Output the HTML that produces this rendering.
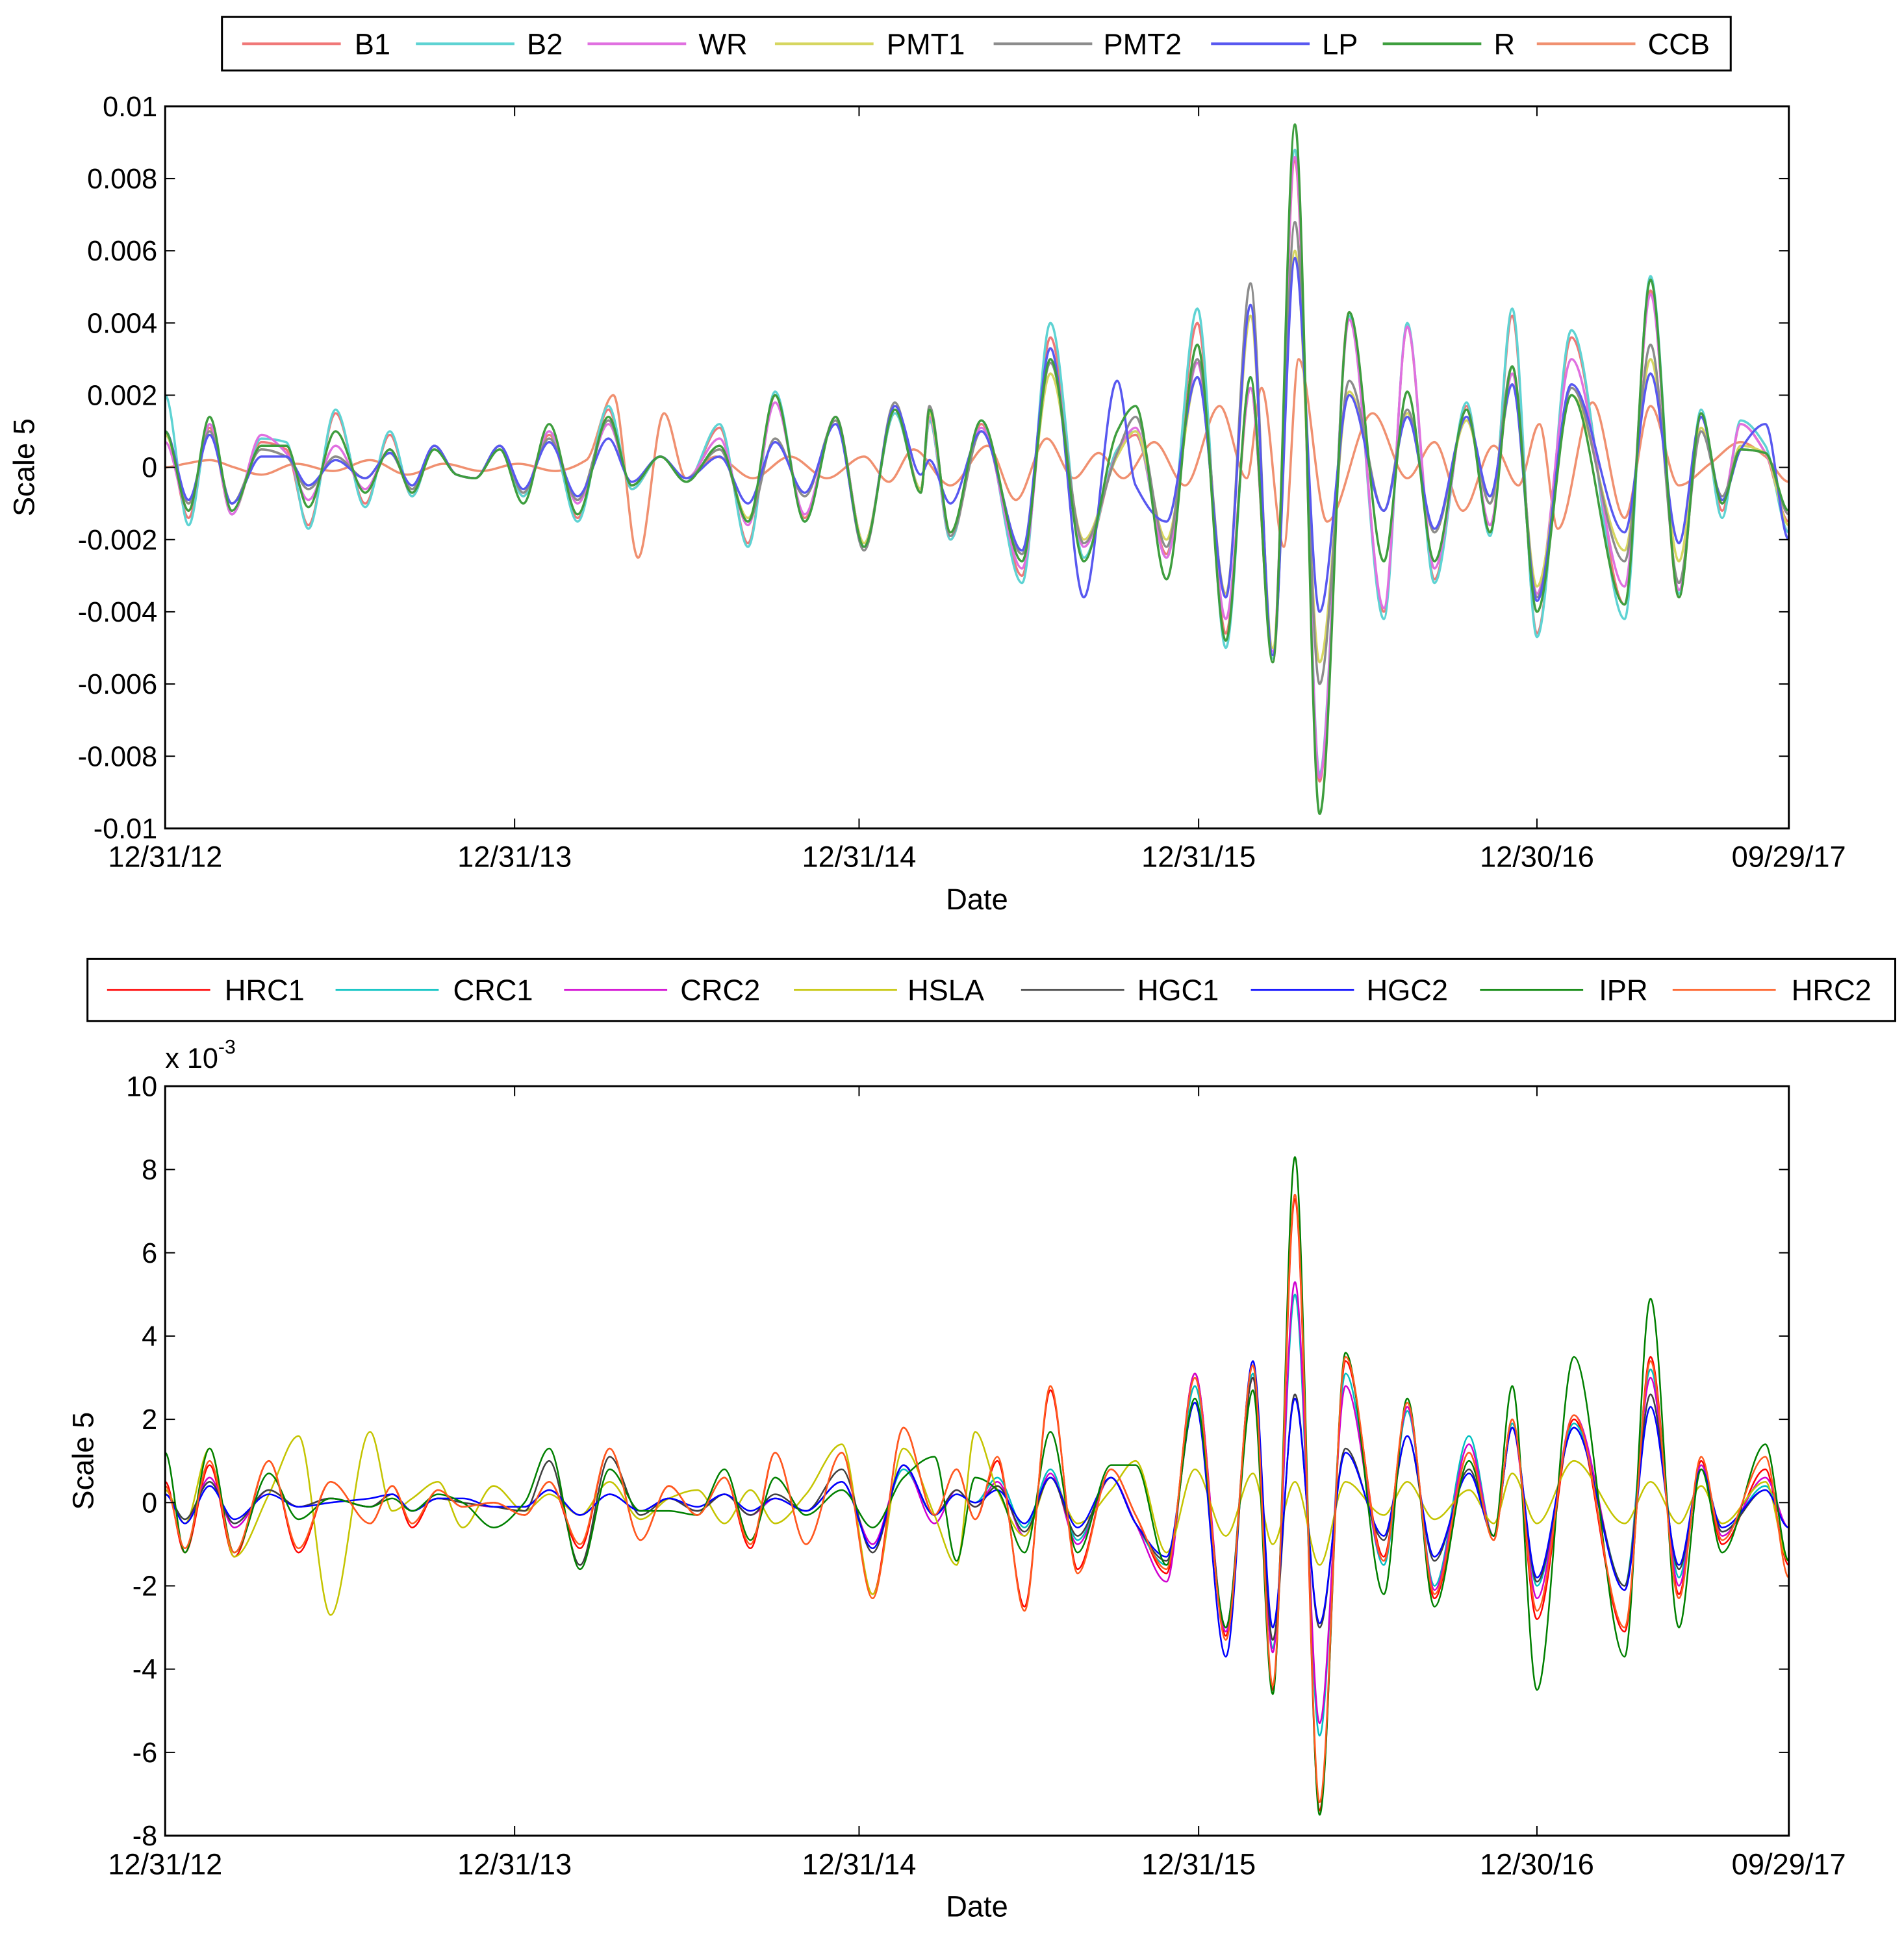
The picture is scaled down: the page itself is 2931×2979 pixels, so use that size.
<!DOCTYPE html>
<html><head><meta charset="utf-8">
<style>
html,body{margin:0;padding:0;background:#fff;}
svg{display:block;font-family:"Liberation Sans",Arial,sans-serif;}
</style></head>
<body>
<svg width="2931" height="2979" viewBox="0 0 2931 2979" xmlns="http://www.w3.org/2000/svg"><g id="chart" transform="scale(1.005)"></g></svg>
<script>
// ---- shared x axis (trading-day index from 12/31/12) ----
const xTickVals = [0, 283, 562, 837, 1111, 1315];
const xTickLabels = ["12/31/12", "12/31/13", "12/31/14", "12/31/15", "12/30/16", "09/29/17"];

// ---- top chart data (values x 1e-3) ----
const topTimes = [0,19,36,54,78,98,116,138,162,182,200,218,236,251,271,290,311,334,359,378,401,422,449,472,494,518,543,566,591,612,619,636,661,694,717,744,771,786,811,836,859,879,897,915,935,959,987,1006,1028,1054,1073,1091,1111,1139,1182,1203,1226,1244,1261,1276,1296,1315];
const topNames = ["B1","B2","WR","PMT1","PMT2","LP","R","CCB"];
const b1 = [1.0,-1.4,1.1,-1.3,0.7,0.5,-1.6,1.5,-1.0,0.9,-0.8,0.6,-0.2,-0.3,0.6,-0.8,0.9,-1.4,1.6,-0.6,0.3,-0.4,1.1,-2.1,2.0,-1.4,1.4,-2.1,1.5,-0.6,1.3,-2.0,1.2,-3.0,3.6,-2.5,0.4,0.9,-2.4,4.0,-4.6,2.2,-5.2,8.5,-8.7,4.3,-4.0,3.9,-3.1,1.7,-1.8,4.2,-4.6,3.6,-3.8,4.9,-3.6,1.5,-1.2,1.2,0.4,-1.5];
const b2 = [2.0,-1.6,1.2,-1.3,0.8,0.7,-1.7,1.6,-1.1,1.0,-0.8,0.6,-0.2,-0.3,0.6,-0.8,1.0,-1.5,1.7,-0.6,0.3,-0.4,1.2,-2.2,2.1,-1.5,1.4,-2.1,1.5,-0.6,1.3,-2.0,1.3,-3.2,4.0,-2.5,0.5,1.0,-2.5,4.4,-5.0,2.5,-5.3,8.8,-8.5,4.2,-4.2,4.0,-3.2,1.8,-1.9,4.4,-4.7,3.8,-4.2,5.3,-3.5,1.6,-1.4,1.3,0.6,-1.8];
const wr = [0.7,-1.2,1.2,-1.3,0.9,0.4,-0.9,0.6,-0.6,0.5,-0.7,0.6,-0.2,-0.3,0.6,-0.7,1.0,-1.0,1.2,-0.5,0.3,-0.3,0.8,-1.6,1.8,-1.3,1.4,-2.1,1.6,-0.6,1.4,-1.9,1.1,-2.8,3.0,-2.2,0.4,1.1,-2.5,2.9,-4.2,2.2,-5.1,8.6,-8.6,4.1,-3.9,3.9,-2.8,1.6,-1.6,2.6,-3.5,3.0,-3.3,4.8,-3.4,1.4,-1.0,1.2,0.4,-1.2];
const pmt1 = [0.9,-1.0,1.0,-1.0,0.5,0.3,-0.6,0.3,-0.3,0.4,-0.6,0.6,-0.2,-0.3,0.6,-0.7,0.8,-0.9,1.3,-0.5,0.3,-0.3,0.5,-1.4,0.8,-0.8,1.3,-2.1,1.6,-0.6,1.5,-1.8,1.0,-2.3,2.6,-2.0,0.3,1.0,-2.0,2.5,-3.5,4.2,-5.0,6.0,-5.4,2.1,-1.2,1.5,-1.8,1.3,-1.0,2.3,-3.3,2.0,-2.3,3.0,-2.6,1.1,-0.9,0.6,0.4,-1.6];
const pmt2 = [1.0,-1.0,1.0,-1.0,0.5,0.3,-0.6,0.3,-0.3,0.4,-0.6,0.6,-0.2,-0.3,0.6,-0.7,0.8,-0.9,1.3,-0.5,0.3,-0.3,0.5,-1.5,0.8,-0.8,1.3,-2.3,1.8,-0.7,1.7,-1.9,1.0,-2.4,2.9,-2.1,0.4,1.4,-2.2,3.0,-3.6,5.1,-5.4,6.8,-6.0,2.4,-1.2,1.6,-1.8,1.4,-1.0,2.8,-3.6,2.2,-2.6,3.4,-3.2,1.0,-0.8,0.5,0.4,-1.3];
const lp = [1.0,-0.9,0.9,-1.0,0.3,0.3,-0.5,0.2,-0.3,0.4,-0.5,0.6,-0.2,-0.3,0.6,-0.6,0.7,-0.8,0.8,-0.4,0.3,-0.3,0.3,-1.0,0.7,-0.7,1.2,-2.2,1.7,-0.2,0.2,-1.0,1.0,-2.3,3.3,-3.6,2.4,-0.5,-1.5,2.5,-3.6,4.5,-5.2,5.8,-4.0,2.0,-1.2,1.4,-1.7,1.4,-0.8,2.3,-3.7,2.3,-1.8,2.6,-2.1,1.4,-0.9,0.5,1.2,-2.0];
const r = [1.0,-1.2,1.4,-1.2,0.6,0.6,-1.1,1.0,-0.7,0.5,-0.7,0.5,-0.2,-0.3,0.5,-1.0,1.2,-1.3,1.4,-0.5,0.3,-0.4,0.6,-1.5,2.0,-1.5,1.4,-2.2,1.6,-0.7,1.6,-1.8,1.3,-2.6,3.0,-2.6,1.0,1.7,-3.1,3.4,-4.8,2.5,-5.4,9.5,-9.6,4.3,-2.6,2.1,-2.6,1.6,-1.8,2.8,-4.0,2.0,-3.8,5.2,-3.6,1.5,-1.0,0.5,0.4,-1.2];
const ccbTimes = [0,16,36,56,78,106,136,166,196,226,256,286,316,341,363,383,404,422,446,476,506,536,566,586,606,636,666,689,714,736,756,776,801,826,854,876,888,906,918,941,978,1006,1028,1051,1076,1096,1113,1128,1156,1182,1203,1226,1251,1276,1296,1315];
const ccb = [0.0,0.1,0.2,0.0,-0.2,0.1,-0.1,0.2,-0.2,0.1,-0.1,0.1,-0.1,0.2,2.0,-2.5,1.5,-0.3,0.3,-0.3,0.3,-0.3,0.3,-0.4,0.5,-0.5,0.6,-0.9,0.8,-0.3,0.4,-0.3,0.7,-0.5,1.7,-0.3,2.2,-2.2,3.0,-1.5,1.5,-0.3,0.7,-1.2,0.6,-0.5,1.2,-1.7,1.8,-1.4,1.7,-0.5,0.1,0.7,0.3,-0.4];
const topYTicks = [-10,-8,-6,-4,-2,0,2,4,6,8,10];
const topYTickLabels = ["-0.01","-0.008","-0.006","-0.004","-0.002","0","0.002","0.004","0.006","0.008","0.01"];

// ---- bottom chart data (values x 1e-3) ----
const botTimes = [0,16,36,56,84,108,134,166,184,200,221,241,266,291,311,336,360,385,408,431,453,474,494,519,548,573,598,623,641,656,674,696,717,739,766,786,811,834,859,881,897,915,935,956,987,1006,1028,1056,1076,1091,1111,1141,1182,1203,1226,1244,1261,1296,1315];
const botNames = ["HRC1","CRC1","CRC2","HSLA","HGC1","HGC2","IPR","HRC2"];
const hrc1 = [0.5,-1.2,0.9,-1.3,1.0,-1.2,0.5,-0.5,0.4,-0.6,0.3,-0.1,0.0,-0.3,0.5,-1.1,1.3,-0.9,0.4,-0.3,0.6,-1.1,1.2,-1.0,1.2,-2.2,1.8,-0.3,0.8,-0.4,1.0,-2.5,2.7,-1.6,0.8,-0.3,-1.7,3.1,-3.2,3.3,-4.5,7.3,-7.4,3.4,-1.3,2.3,-2.3,1.2,-0.9,2.0,-2.8,2.0,-3.1,3.5,-2.2,1.0,-1.0,0.8,-1.5];
const crc1 = [0.2,-0.4,0.5,-0.5,0.3,-0.1,0.1,-0.1,0.2,-0.2,0.1,0.0,-0.1,-0.1,0.3,-0.3,0.2,-0.2,0.1,-0.2,0.2,-0.3,0.1,-0.2,0.5,-1.0,0.8,-0.3,0.2,0.0,0.6,-0.6,0.8,-0.9,0.6,-0.5,-1.5,2.8,-3.0,3.1,-3.5,5.0,-5.6,3.1,-1.5,2.2,-2.0,1.6,-0.8,1.9,-2.0,1.9,-2.0,3.2,-1.8,0.9,-0.7,0.4,-0.6];
const crc2 = [0.3,-0.5,0.6,-0.6,0.3,-0.1,0.1,-0.1,0.2,-0.2,0.1,0.0,-0.1,-0.1,0.3,-0.3,0.2,-0.2,0.1,-0.2,0.2,-0.3,0.1,-0.2,0.5,-1.0,0.9,-0.5,0.3,-0.1,0.5,-0.8,0.7,-1.0,0.6,-0.5,-1.9,3.1,-3.1,3.0,-3.6,5.3,-5.3,2.8,-1.4,2.3,-2.1,1.4,-0.8,1.8,-2.3,2.1,-2.1,3.0,-2.0,0.9,-0.8,0.6,-0.6];
const hsla = [0.3,-0.5,1.3,-1.3,0.2,1.6,-2.7,1.7,-0.2,0.1,0.5,-0.6,0.4,-0.2,0.2,-0.3,0.5,-0.4,0.1,0.3,-0.5,0.3,-0.5,0.2,1.4,-2.2,1.3,-0.3,-1.5,1.7,0.3,-0.8,0.6,-0.5,0.3,1.0,-1.2,0.8,-0.8,0.7,-1.0,0.5,-1.5,0.5,-0.3,0.5,-0.4,0.3,-0.5,0.7,-0.5,1.0,-0.5,0.5,-0.5,0.4,-0.5,0.5,-1.4];
const hgc1 = [0.2,-0.4,0.5,-0.5,0.3,-0.1,0.1,-0.1,0.2,-0.2,0.1,0.0,-0.1,-0.2,1.0,-1.5,1.1,-0.3,0.1,-0.2,0.2,-0.3,0.2,-0.2,0.8,-1.2,0.9,-0.3,0.3,-0.1,0.4,-0.7,0.6,-0.8,0.6,-0.5,-1.4,2.4,-3.0,3.0,-3.3,2.6,-3.0,1.3,-0.9,1.6,-1.4,0.8,-0.8,1.8,-1.9,1.8,-2.0,2.6,-1.6,0.8,-0.7,0.3,-0.6];
const hgc2 = [0.2,-0.5,0.4,-0.4,0.2,-0.1,0.0,0.1,0.2,-0.2,0.1,0.1,-0.1,-0.1,0.3,-0.3,0.2,-0.2,0.1,-0.1,0.2,-0.2,0.1,-0.2,0.5,-1.1,0.9,-0.3,0.2,0.0,0.3,-0.5,0.6,-0.6,0.6,-0.5,-1.3,2.4,-3.7,3.4,-3.0,2.5,-2.9,1.2,-0.8,1.6,-1.3,0.7,-0.8,1.8,-1.8,1.8,-2.1,2.3,-1.5,0.8,-0.6,0.3,-0.6];
const ipr = [1.2,-1.2,1.3,-1.2,0.7,-0.4,0.1,-0.1,0.1,-0.2,0.2,0.0,-0.6,0.0,1.3,-1.6,0.8,-0.2,-0.2,-0.3,0.8,-0.9,0.6,-0.3,0.3,-0.6,0.6,1.1,-1.4,0.6,0.3,-1.2,1.7,-1.2,0.9,0.9,-1.5,2.5,-3.0,2.7,-4.6,8.3,-7.5,3.6,-2.2,2.5,-2.5,1.0,-0.8,2.8,-4.5,3.5,-3.7,4.9,-3.0,0.8,-1.2,1.4,-1.4];
const hrc2 = [0.4,-1.1,1.0,-1.2,1.0,-1.1,0.5,-0.5,0.4,-0.5,0.3,-0.1,0.0,-0.3,0.5,-1.0,1.3,-0.9,0.4,-0.3,0.6,-1.0,1.2,-1.0,1.2,-2.3,1.8,-0.3,0.8,-0.4,1.1,-2.6,2.8,-1.7,0.8,-0.3,-1.6,3.0,-3.3,3.3,-4.4,7.4,-7.2,3.5,-1.4,2.4,-2.2,1.2,-0.9,2.0,-2.6,2.1,-3.0,3.4,-2.3,1.1,-0.9,1.1,-1.8];
const botYTicks = [-8,-6,-4,-2,0,2,4,6,8,10];
const botYTickLabels = ["-8","-6","-4","-2","0","2","4","6","8","10"];

const NS = "http://www.w3.org/2000/svg";
const svg = document.getElementById("chart");
function mk(tag, attrs, parent) {
  const e = document.createElementNS(NS, tag);
  for (const k in attrs) e.setAttribute(k, attrs[k]);
  (parent || svg).appendChild(e);
  return e;
}
function monoPath(xs, ys) {
  const n = xs.length; const t = new Array(n).fill(0);
  for (let i = 1; i < n - 1; i++) {
    const d0 = (ys[i]-ys[i-1])/(xs[i]-xs[i-1]), d1 = (ys[i+1]-ys[i])/(xs[i+1]-xs[i]);
    t[i] = (d0*d1 <= 0) ? 0 : 2/(1/d0+1/d1);
  }
  let d = "M" + xs[0].toFixed(1) + "," + ys[0].toFixed(1);
  for (let i = 0; i < n - 1; i++) {
    const h = (xs[i+1]-xs[i])/3;
    d += "C" + (xs[i]+h).toFixed(1) + "," + (ys[i]+t[i]*h).toFixed(1) + " " + (xs[i+1]-h).toFixed(1) + "," + (ys[i+1]-t[i+1]*h).toFixed(1) + " " + xs[i+1].toFixed(1) + "," + ys[i+1].toFixed(1);
  }
  return d;
}

function drawPlot(cfg) {
  const {L, R, T, B, ymin, ymax, yTicks, yLabels, series, prefix, lw} = cfg;
  const sx = v => L + (v - 0) / 1315 * (R - L);
  const sy = v => B - (v - ymin) / (ymax - ymin) * (B - T);
  const g = mk("g", {});
  
  
  const clip = mk("clipPath", {id: prefix + "-clip"}, g);
  mk("rect", {x: L, y: T, width: R - L, height: B - T}, clip);
  const lines = mk("g", {"clip-path": "url(#" + prefix + "-clip)"}, g);
  series.forEach(s => {
    const p = mk("path", {d: monoPath(s.t.map(sx), s.v.map(sy)), fill: "none", stroke: s.color, "stroke-width": lw, "stroke-linejoin": "round"}, lines);
    
    
  });
  const frame = mk("rect", {x: L, y: T, width: R - L, height: B - T, fill: "none", stroke: "#000", "stroke-width": 3}, g);
  
  
  yTicks.forEach((v, i) => {
    const y = sy(v);
    mk("line", {x1: L, x2: L + 15, y1: y, y2: y, stroke: "#000", "stroke-width": 2}, g);
    mk("line", {x1: R, x2: R - 15, y1: y, y2: y, stroke: "#000", "stroke-width": 2}, g);
    const tx = mk("text", {x: L - 12, y: y + 15, "text-anchor": "end", "font-size": 43, fill: "#000"}, g);
    tx.textContent = yLabels[i];
    
    
  });
  xTickVals.forEach((v, i) => {
    const x = sx(v);
    mk("line", {x1: x, x2: x, y1: B, y2: B - 15, stroke: "#000", "stroke-width": 2}, g);
    mk("line", {x1: x, x2: x, y1: T, y2: T + 15, stroke: "#000", "stroke-width": 2}, g);
    const tx = mk("text", {x: x, y: B + 59, "text-anchor": "middle", "font-size": 45, fill: "#000"}, g);
    tx.textContent = xTickLabels[i];
    
    
  });
  const xt = mk("text", {x: (L + R) / 2, y: B + 124, "text-anchor": "middle", "font-size": 45, fill: "#000"}, g);
  xt.textContent = "Date";
  
  
  const yt = mk("text", {x: 0, y: 0, "text-anchor": "middle", "font-size": 45, fill: "#000", transform: "translate(" + cfg.ylx + "," + (T + B) / 2 + ") rotate(-90)"}, g);
  yt.textContent = "Scale 5";
  
  
}

function drawLegend(cfg) {
  const g = mk("g", {});
  
  
  mk("rect", {x: cfg.x, y: cfg.y, width: cfg.w, height: cfg.h, fill: "#fff", stroke: "#000", "stroke-width": 3}, g);
  const cy = cfg.y + cfg.h / 2;
  cfg.items.forEach((it, i) => {
    const e = mk("g", {}, g);
    
    
    mk("line", {x1: cfg.lx[i], x2: cfg.lx[i] + cfg.len, y1: cy, y2: cy, stroke: it.color, "stroke-width": cfg.lw}, e);
    const t = mk("text", {x: cfg.tx[i], y: cy + 16, "font-size": 45, fill: "#000"}, e);
    t.textContent = it.name;
  });
}

const topColors = ["#f07878", "#5ed3d3", "#e070e0", "#d6d660", "#8c8c8c", "#5858f0", "#3e9e3e", "#f09070"];
const topVals = [b1, b2, wr, pmt1, pmt2, lp, r, ccb];
const topSeries = topNames.map((n, i) => ({name: n, color: topColors[i], v: topVals[i], t: n === "CCB" ? ccbTimes : topTimes}));
const ccbS = topSeries.pop();
topSeries.splice(0, 0, ccbS);
drawPlot({L: 253, R: 2740, T: 163, B: 1269, ymin: -10, ymax: 10, yTicks: topYTicks, yLabels: topYTickLabels, series: topSeries, prefix: "top", lw: 3.5, ylx: 52});
drawLegend({name: "top-legend", x: 340, y: 26, w: 2311, h: 82, len: 151, lw: 4,
  lx: [371, 637, 900, 1187, 1522, 1855, 2118, 2354], tx: [543, 807, 1070, 1358, 1690, 2025, 2288, 2524],
  items: topNames.map((n, i) => ({name: n, color: topColors[i]}))});

const botColors = ["#ff0000", "#00c0c0", "#d000d0", "#c4c400", "#404040", "#0000ff", "#008000", "#ff5a1e"];
const botVals = [hrc1, crc1, crc2, hsla, hgc1, hgc2, ipr, hrc2];
const botSeries = botNames.map((n, i) => ({name: n, color: botColors[i], v: botVals[i], t: botTimes}));
drawPlot({L: 253, R: 2740, T: 1664, B: 2812, ymin: -8, ymax: 10, yTicks: botYTicks, yLabels: botYTickLabels, series: botSeries, prefix: "bottom", lw: 2.5, ylx: 143});
drawLegend({name: "bottom-legend", x: 134, y: 1469, w: 2769, h: 95, len: 158, lw: 2.5,
  lx: [164, 514, 864, 1216, 1564, 1916, 2267, 2562], tx: [344, 694, 1042, 1390, 1742, 2093, 2449, 2744],
  items: botNames.map((n, i) => ({name: n, color: botColors[i]}))});

const ex = mk("text", {x: 253, y: 1636, "font-size": 43, fill: "#000"});


ex.textContent = "x 10";
const sup = mk("tspan", {dy: -22, "font-size": 30}, ex);
sup.textContent = "-3";
</script>
</body></html>
